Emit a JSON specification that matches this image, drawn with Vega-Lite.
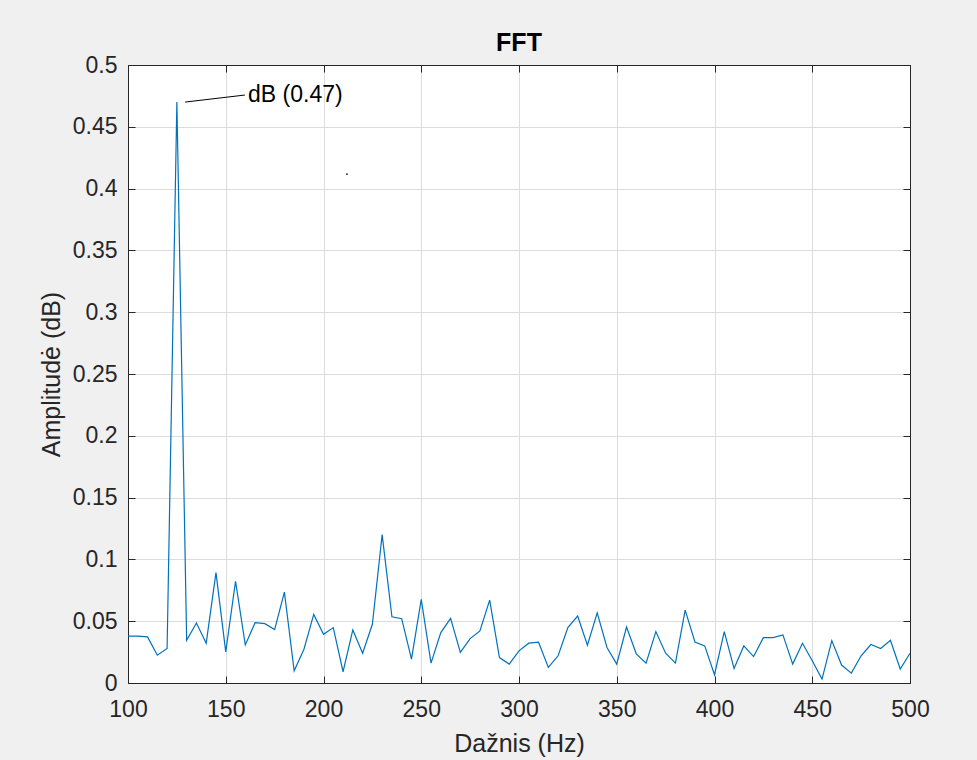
{
  "$schema": "https://vega.github.io/schema/vega-lite/v6.json",
  "autosize": "none",
  "width": 782,
  "height": 618,
  "padding": {"left": 128, "top": 65, "right": 67, "bottom": 77},
  "background": "#f0f0f0",
  "config": {
    "font": "Liberation Sans",
    "view": {"stroke": "#262626", "strokeWidth": 1, "fill": "white"},
    "axis": {
      "labelFont": "Liberation Sans",
      "titleFont": "Liberation Sans",
      "labelFontSize": 23,
      "titleFontSize": 25,
      "labelColor": "#262626",
      "titleColor": "#262626",
      "titleFontWeight": "normal",
      "tickColor": "#262626",
      "tickSize": -7,
      "domainColor": "#262626",
      "gridColor": "#dcdcdc",
      "gridWidth": 1
    }
  },
  "title": {"text": "FFT", "fontSize": 25, "fontWeight": "bold", "font": "Liberation Sans", "color": "#000000", "offset": -2},
  "datasets": {
    "fft": [
      {"hz": 100, "amp": 0.038}, {"hz": 105, "amp": 0.038}, {"hz": 110, "amp": 0.0373}, {"hz": 115, "amp": 0.0225},
      {"hz": 120, "amp": 0.0279}, {"hz": 125, "amp": 0.47}, {"hz": 130, "amp": 0.0346}, {"hz": 135, "amp": 0.0485},
      {"hz": 140, "amp": 0.0322}, {"hz": 145, "amp": 0.0893}, {"hz": 150, "amp": 0.0252}, {"hz": 155, "amp": 0.0823},
      {"hz": 160, "amp": 0.0308}, {"hz": 165, "amp": 0.0488}, {"hz": 170, "amp": 0.048}, {"hz": 175, "amp": 0.0432},
      {"hz": 180, "amp": 0.0735}, {"hz": 185, "amp": 0.0099}, {"hz": 190, "amp": 0.0273}, {"hz": 195, "amp": 0.0555},
      {"hz": 200, "amp": 0.0394}, {"hz": 205, "amp": 0.0448}, {"hz": 210, "amp": 0.0091}, {"hz": 215, "amp": 0.0429},
      {"hz": 220, "amp": 0.0241}, {"hz": 225, "amp": 0.0475}, {"hz": 230, "amp": 0.12}, {"hz": 235, "amp": 0.0536},
      {"hz": 240, "amp": 0.052}, {"hz": 245, "amp": 0.0193}, {"hz": 250, "amp": 0.0676}, {"hz": 255, "amp": 0.0161},
      {"hz": 260, "amp": 0.0408}, {"hz": 265, "amp": 0.0523}, {"hz": 270, "amp": 0.0247}, {"hz": 275, "amp": 0.0359},
      {"hz": 280, "amp": 0.0421}, {"hz": 285, "amp": 0.067}, {"hz": 290, "amp": 0.0206}, {"hz": 295, "amp": 0.0153},
      {"hz": 300, "amp": 0.026}, {"hz": 305, "amp": 0.0322}, {"hz": 310, "amp": 0.033}, {"hz": 315, "amp": 0.0126},
      {"hz": 320, "amp": 0.022}, {"hz": 325, "amp": 0.0448}, {"hz": 330, "amp": 0.0542}, {"hz": 335, "amp": 0.0306},
      {"hz": 340, "amp": 0.0568}, {"hz": 345, "amp": 0.0287}, {"hz": 350, "amp": 0.0153}, {"hz": 355, "amp": 0.0453},
      {"hz": 360, "amp": 0.0236}, {"hz": 365, "amp": 0.0161}, {"hz": 370, "amp": 0.0416}, {"hz": 375, "amp": 0.0241},
      {"hz": 380, "amp": 0.0161}, {"hz": 385, "amp": 0.059}, {"hz": 390, "amp": 0.0332}, {"hz": 395, "amp": 0.03},
      {"hz": 400, "amp": 0.0067}, {"hz": 405, "amp": 0.0416}, {"hz": 410, "amp": 0.0118}, {"hz": 415, "amp": 0.03},
      {"hz": 420, "amp": 0.0214}, {"hz": 425, "amp": 0.0367}, {"hz": 430, "amp": 0.0367}, {"hz": 435, "amp": 0.0389},
      {"hz": 440, "amp": 0.0153}, {"hz": 445, "amp": 0.0322}, {"hz": 450, "amp": 0.018}, {"hz": 455, "amp": 0.0032},
      {"hz": 460, "amp": 0.0343}, {"hz": 465, "amp": 0.0145}, {"hz": 470, "amp": 0.008}, {"hz": 475, "amp": 0.022},
      {"hz": 480, "amp": 0.0311}, {"hz": 485, "amp": 0.0279}, {"hz": 490, "amp": 0.0346}, {"hz": 495, "amp": 0.0113},
      {"hz": 500, "amp": 0.0241}
    ],
    "note": [
      {"x1": 129.2, "y1": 0.470, "x2": 159.8, "y2": 0.4757, "tx": 161.4, "ty": 0.4757, "label": "dB (0.47)"}
    ],
    "dot": [
      {"hz": 212.0, "amp": 0.4118}
    ]
  },
  "resolve": {"axis": {"x": "independent", "y": "independent"}},
  "layer": [
    {
      "data": {"name": "fft"},
      "mark": {"type": "line", "stroke": "#0072BD", "strokeWidth": 1.2},
      "encoding": {
        "x": {
          "field": "hz", "type": "quantitative",
          "scale": {"domain": [100, 500], "nice": false, "zero": false},
          "axis": {"orient": "bottom", "values": [100, 150, 200, 250, 300, 350, 400, 450, 500], "title": "Dažnis (Hz)", "labelPadding": 22, "titlePadding": 10, "grid": true, "labelFlush": false}
        },
        "y": {
          "field": "amp", "type": "quantitative",
          "scale": {"domain": [0, 0.5], "nice": false, "zero": false},
          "axis": {"orient": "left", "values": [0, 0.05, 0.1, 0.15, 0.2, 0.25, 0.3, 0.35, 0.4, 0.45, 0.5], "format": ".2~f", "title": "Amplitudė (dB)", "labelPadding": 18, "titlePadding": 8, "grid": true, "labelFlush": false}
        }
      }
    },
    {
      "data": {"name": "fft"},
      "mark": {"type": "line", "strokeOpacity": 0},
      "encoding": {
        "x": {
          "field": "hz", "type": "quantitative",
          "axis": {"orient": "top", "values": [100, 150, 200, 250, 300, 350, 400, 450, 500], "title": null, "labels": false, "grid": false}
        },
        "y": {
          "field": "amp", "type": "quantitative",
          "axis": {"orient": "right", "values": [0, 0.05, 0.1, 0.15, 0.2, 0.25, 0.3, 0.35, 0.4, 0.45, 0.5], "title": null, "labels": false, "grid": false}
        }
      }
    },
    {
      "data": {"name": "note"},
      "mark": {"type": "rule", "stroke": "#000000", "strokeWidth": 1},
      "encoding": {
        "x": {"field": "x1", "type": "quantitative", "axis": null},
        "y": {"field": "y1", "type": "quantitative", "axis": null},
        "x2": {"field": "x2"},
        "y2": {"field": "y2"}
      }
    },
    {
      "data": {"name": "note"},
      "mark": {"type": "text", "align": "left", "baseline": "middle", "fontSize": 23, "font": "Liberation Sans", "color": "#000000"},
      "encoding": {
        "x": {"field": "tx", "type": "quantitative", "axis": null},
        "y": {"field": "ty", "type": "quantitative", "axis": null},
        "text": {"field": "label"}
      }
    },
    {
      "data": {"name": "dot"},
      "mark": {"type": "point", "filled": true, "size": 3, "color": "#000000", "opacity": 1},
      "encoding": {
        "x": {"field": "hz", "type": "quantitative", "axis": null},
        "y": {"field": "amp", "type": "quantitative", "axis": null}
      }
    }
  ]
}
